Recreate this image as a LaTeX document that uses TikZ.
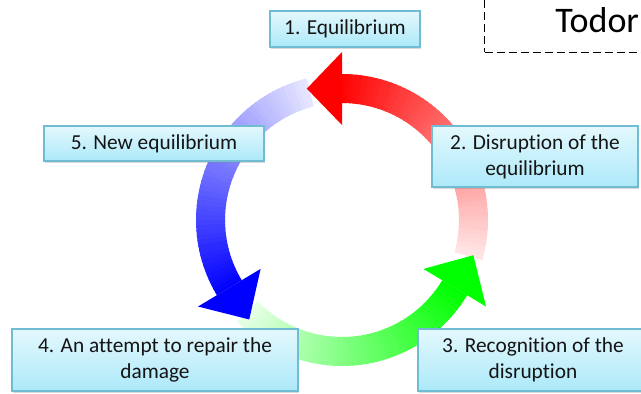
\documentclass[tikz,border=0pt]{standalone}
\usepackage{fontspec}
\setmainfont{Carlito}[Ligatures=NoCommon]
\usepackage{tikz}
\usetikzlibrary{shadows}
\definecolor{boxtop}{RGB}{228,248,253}
\definecolor{boxbottom}{RGB}{172,233,249}
\definecolor{boxline}{RGB}{112,188,210}
\definecolor{boxtext}{RGB}{20,20,20}
\tikzset{stage box/.style={
        draw=boxline, line width=0.8pt, top color=boxtop, bottom color=boxbottom,
        minimum width=#1, align=center, text=boxtext,
        font=\fontsize{16}{19.5}\selectfont,
        inner sep=0pt, outer sep=0pt,
        drop shadow={opacity=0.3, shadow xshift=0.8pt, shadow yshift=-1.2pt},
    },
    name box/.style={
        draw, dashed, dash pattern=on 6pt off 3pt, line width=0.9pt,
        font=\fontsize{27}{32}\selectfont, anchor=south west,
        inner xsep=53pt, inner ysep=15pt, text depth=0pt,
    },
}
%% one fading arc of the cycle: colour, tail angle, angle where the head starts
\newcommand\cyclebody[3]{%
    \pgfmathtruncatemacro\nsteps{(#3-#2)/2}
    \foreach \k in {0,...,\nsteps}{
        \pgfmathsetmacro\a{#2+2*\k}
        \pgfmathsetmacro\b{min(\a+2.5,#3)}
        \pgfmathtruncatemacro\p{10+90*\k/\nsteps}
        \fill[#1!\p!white] (\a:117) -- (\b:117) -- (\b:146) -- (\a:146) -- cycle;
    }
}
%% the head: colour, base angle, tip angle
\newcommand\cyclehead[3]{%
    \fill[#1] (#2:95) -- (#3:136) -- (#2:168) -- cycle;
}

\begin{document}
\begin{tikzpicture}[x=0.75pt, y=-0.75pt]
    \useasboundingbox (0,0) rectangle (641,393);

    %% the ring of three arrows
    \begin{scope}[shift={(342,220)}, yscale=-1]
        \cyclebody{red}{-16}{90}
        \cyclebody{blue}{104}{211}
        \cyclebody{green}{224}{329}
        \cyclehead{red}{90}{105}
        \cyclehead{blue}{211}{227}
        \cyclehead{green}{329}{345}
    \end{scope}

    %% the stages
    \node [stage box=112.5pt, minimum height=27pt] (S1) at (345,29) {1. Equilibrium};
    \node [stage box=154.5pt, minimum height=45.75pt] (S2) at (535,156.5) {2. Disruption of the\\equilibrium};
    \node [stage box=172.5pt, minimum height=46.5pt] (S3) at (533,360) {3. Recognition of the\\disruption};
    \node [stage box=214.5pt, minimum height=46.5pt] (S4) at (155,360) {4. An attempt to repair the\\damage};
    \node [stage box=165pt, minimum height=26.25pt] (S5) at (154,143.5) {5. New equilibrium};

    %% the name, cut by the border
    \node [name box] (author) at (484,53) {Todor};
\end{tikzpicture}
\end{document}
